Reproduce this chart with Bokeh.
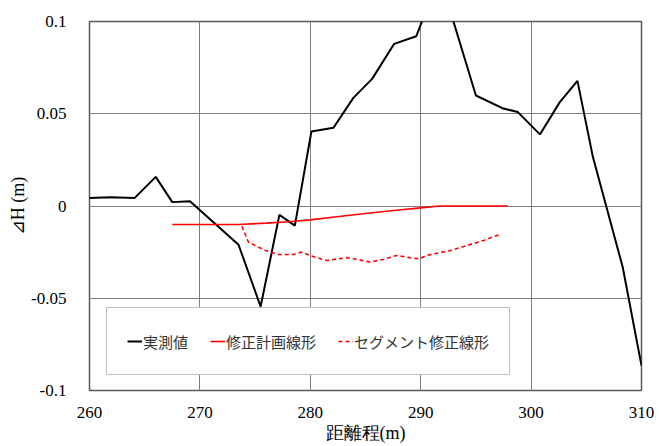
from bokeh.plotting import figure
from bokeh.models import Range1d, FixedTicker, Legend, LegendItem
from bokeh.embed import file_html
from bokeh.resources import INLINE

# 実測値
meas_x = [260.0, 261.9, 264.1, 266.0, 267.5, 269.1, 273.5, 275.5, 277.2, 278.6, 280.1,
          282.1, 283.9, 285.6, 287.6, 289.6, 291.7, 295.0, 297.4, 298.8, 300.8, 302.6,
          304.2, 305.6, 308.3, 310.0]
meas_y = [0.0044, 0.0048, 0.0044, 0.0158, 0.0021, 0.0026, -0.021, -0.0545, -0.0048, -0.0106, 0.0404,
          0.0424, 0.0586, 0.0689, 0.0879, 0.0920, 0.125, 0.0599, 0.0530, 0.0509, 0.0388, 0.0563,
          0.0678, 0.0265, -0.0332, -0.0865]

# 修正計画線形
plan_x = [267.5, 270.0, 273.5, 276.0, 278.0, 280.0, 282.0, 284.0, 286.0, 288.0, 290.0, 291.7, 294.0, 297.9]
plan_y = [-0.0100, -0.0100, -0.0100, -0.0093, -0.0085, -0.0075, -0.0061, -0.0047, -0.0034, -0.0022, -0.0010, 0.0, 0.0, 0.0]

# セグメント修正線形
seg_x = [273.8, 274.4, 275.9, 277.1, 278.5, 279.2, 280.4, 281.5, 283.3, 284.3, 285.4, 286.6, 287.8,
         289.0, 289.9, 290.5, 292.7, 295.7, 297.3]
seg_y = [-0.0110, -0.0196, -0.0240, -0.0263, -0.0263, -0.0250, -0.0277, -0.0295, -0.0280, -0.0290, -0.0304, -0.0290, -0.0268,
         -0.0280, -0.0286, -0.0268, -0.0241, -0.0187, -0.0151]

x_ticks = [260, 270, 280, 290, 300, 310]
y_ticks = [0.1, 0.05, 0.0, -0.05, -0.1]
y_tick_labels = ["0.1", "0.05", "0", "-0.05", "-0.1"]

SERIF = "Liberation Serif"
CJK = "Noto Sans CJK JP"

p = figure(width=659, height=446, output_backend="svg", toolbar_location=None,
           x_range=Range1d(260, 310), y_range=Range1d(-0.1, 0.1),
           min_border_left=89, min_border_right=18, min_border_top=21, min_border_bottom=56)

p.outline_line_color = "#595959"
p.outline_line_width = 1.5

p.axis.axis_line_color = None
p.axis.major_tick_line_color = None
p.axis.minor_tick_line_color = None
p.axis.major_label_text_font = SERIF
p.axis.major_label_text_font_size = "17px"
p.axis.major_label_text_font_style = "normal"
p.axis.major_label_text_color = "#000000"
p.axis.axis_label_text_font = SERIF
p.axis.axis_label_text_font_size = "18px"
p.axis.axis_label_text_font_style = "normal"
p.axis.axis_label_text_color = "#000000"

p.xaxis.ticker = FixedTicker(ticks=x_ticks)
p.yaxis.ticker = FixedTicker(ticks=y_ticks)
p.yaxis.major_label_overrides = {t: l for t, l in zip(y_ticks, y_tick_labels)}
p.xaxis.major_label_standoff = 10
p.yaxis.major_label_standoff = 17

p.xaxis.axis_label = "距離程(m)"
p.xaxis.axis_label_standoff = 2
p.yaxis.axis_label = "⊿H (m)"
p.yaxis.axis_label_standoff = 0

p.xgrid.ticker = FixedTicker(ticks=x_ticks)
p.ygrid.ticker = FixedTicker(ticks=y_ticks)
p.grid.grid_line_color = "#7f7f7f"
p.grid.grid_line_width = 1
p.grid.grid_line_alpha = 1.0

r1 = p.line(meas_x, meas_y, line_color="#000000", line_width=2)
r2 = p.line(plan_x, plan_y, line_color="#ff0000", line_width=1.6)
r3 = p.line(seg_x, seg_y, line_color="#ff0000", line_width=1.6, line_dash="4 3")

legend = Legend(items=[LegendItem(label="実測値", renderers=[r1]),
                       LegendItem(label="修正計画線形", renderers=[r2]),
                       LegendItem(label="セグメント修正線形", renderers=[r3])],
                orientation="horizontal", location=(17, 15),
                padding=20, spacing=22, margin=0,
                glyph_width=15, glyph_height=26, label_height=26, label_standoff=1,
                label_text_font=CJK, label_text_font_size="15px", label_text_color="#333333",
                border_line_color="#808080", border_line_width=1,
                background_fill_color="#ffffff", background_fill_alpha=1.0)
p.add_layout(legend, "center")

open("out.html", "w").write(file_html(p, INLINE))
